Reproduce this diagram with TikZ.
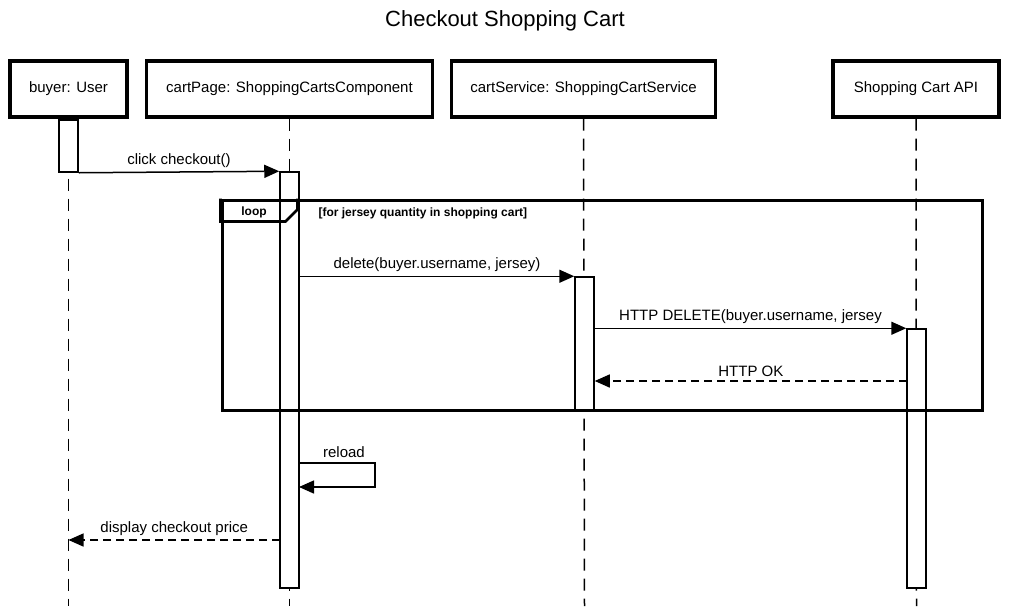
\documentclass[tikz,border=0pt]{standalone}
\usepackage{fontspec}
\setmainfont{Liberation Sans}
\usetikzlibrary{arrows.meta}
\tikzset{
  part/.style={draw, line width=3.2pt, fill=white, minimum height=56pt, inner sep=0pt, font=\fontsize{15}{18}\selectfont},
  life/.style={line width=1.5pt, dash pattern=on 12pt off 8pt},
  act/.style={draw, line width=1.5pt, fill=white, minimum width=19pt, inner sep=0pt},
  msg/.style={line width=1.5pt, -{Triangle[length=15pt,width=13pt]}},
  ret/.style={msg, dash pattern=on 8pt off 5pt},
  lbl/.style={font=\fontsize{15}{18}\selectfont, inner sep=0pt},
  frame/.style={draw, line width=3pt}
}
\begin{document}
\begin{tikzpicture}[x=1pt,y=-1pt]
\useasboundingbox (0,0) rectangle (1010,606);
\node[font=\fontsize{22}{26}\selectfont] (title) at (505,21) {Checkout Shopping Cart};
% participants
\node[part, minimum width=117pt] (p1) at (68.5,89) {buyer: User};
\node[part, minimum width=286pt] (p2) at (289.5,89) {cartPage: ShoppingCartsComponent};
\node[part, minimum width=264pt] (p3) at (583.5,89) {cartService: ShoppingCartService};
\node[part, minimum width=166pt] (p4) at (916,89) {Shopping Cart API};
\coordinate (b1) at (68.5,606);
\coordinate (b2) at (289.5,606);
\coordinate (b3) at (584.5,606);
\coordinate (b4) at (916.5,606);
\draw[life] (p1.south) -- (b1);
\draw[life] (p2.south) -- (b2);
\draw[life] (p3.south) -- (b3);
\draw[life] (p4.south) -- (b4);
% activations
\node[act, minimum height=52pt] (a1) at (68.5,146) {};
\node[act, minimum height=416pt] (a2) at (289.5,380) {};
\node[act, minimum height=133pt] (a3) at (584.5,343.5) {};
\node[act, minimum height=259pt] (a4) at (916.5,458.5) {};
% loop frame
\node[frame, minimum width=760pt, minimum height=210pt, inner sep=0pt] (loop) at (602,305) {};
\draw[line width=2.6pt] (loop.north west) -- ++(0,23) coordinate (lc1) -- ++(65,0) -- ++(12,-12) -- ++(0,-11);
\node[font=\bfseries\fontsize{12}{14}\selectfont] (looplbl) at (254,212) {loop};
\node[font=\bfseries\fontsize{12}{14}\selectfont, anchor=west] (guard) at (315,213) {[for jersey quantity in shopping cart]};
% messages
\draw[msg] (a1.south east) -- (a2.north west) node[lbl, midway, above=4pt] {click checkout()};
\coordinate (d1) at (a2.east |- a3.north);
\draw[msg] (d1) -- (a3.north west) node[lbl, midway, above=4pt] {delete(buyer.username, jersey)};
\coordinate (h1) at (a3.east |- a4.north);
\draw[msg] (h1) -- (a4.north west) node[lbl, midway, above=4pt] {HTTP DELETE(buyer.username, jersey};
\coordinate (ok1) at (907,381);
\coordinate (ok2) at (a3.east |- ok1);
\draw[ret] (ok1) -- (ok2) node[lbl, midway, above=4pt] {HTTP OK};
% reload
\coordinate (r1) at (299,463);
\coordinate (r2) at (375,463);
\coordinate (r3) at (375,487);
\coordinate (r4) at (299,487);
\draw[msg] (r1) -- (r2) -- (r3) -- (r4);
\node[lbl] (rl) at (344,452) {reload};
% display price
\coordinate (dp1) at (280,540);
\coordinate (dp2) at (68.5,540);
\draw[ret] (dp1) -- (dp2) node[lbl, midway, above=4pt] {display checkout price};
\end{tikzpicture}
\end{document}
